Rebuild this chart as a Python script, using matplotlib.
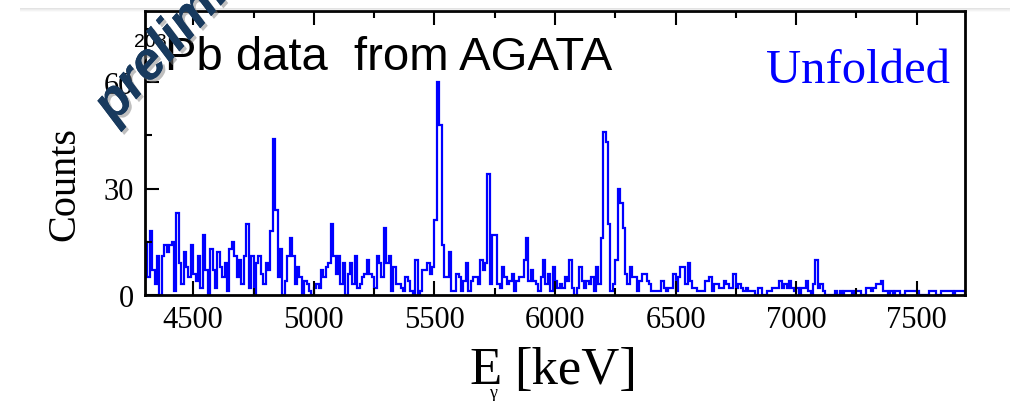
import numpy as np
import matplotlib.pyplot as plt
from matplotlib import patheffects as pe
from matplotlib.patches import Rectangle

# unfolded gamma spectrum, 10 keV bins starting at 4300 keV
bin_width = 10
e_start = 4300

counts_4300 = [15, 5, 18, 7, 3, 11, 0, 11, 14, 12, 14, 15, 1, 23, 9, 3, 12, 8, 5, 14]
counts_4500 = [6, 4, 11, 2, 17, 7, 0, 13, 7, 2, 12, 8, 5, 9, 1, 13, 15, 11, 5, 10,
               3, 11, 20, 2, 11, 0, 9, 11, 6, 3, 9, 7, 18, 44, 24, 5, 13, 0, 4, 11,
               16, 11, 3, 8, 5, 0, 4, 3, 1, 0]
counts_5000 = [2, 3, 2, 7, 5, 8, 9, 20, 11, 6, 11, 3, 9, 0, 6, 9, 3, 11, 2, 3,
               5, 6, 10, 6, 5, 2, 11, 9, 5, 19, 9, 11, 1, 8, 3, 3, 2, 1, 5, 4,
               1, 0, 10, 0, 1, 7, 7, 9, 6, 8]
counts_5500 = [21, 60, 48, 14, 5, 5, 12, 1, 1, 6, 5, 1, 4, 9, 1, 4, 5, 5, 3, 10,
               7, 9, 34, 3, 17, 17, 3, 2, 8, 5, 3, 4, 6, 1, 4, 5, 5, 10, 16, 4,
               7, 4, 3, 1, 5, 10, 3, 6, 1, 8]
counts_6000 = [4, 2, 3, 2, 5, 4, 10, 2, 0, 2, 8, 4, 2, 4, 3, 5, 1, 8, 3, 16,
               46, 43, 20, 1, 3, 10, 30, 26, 19, 6, 3, 8, 5, 5, 1, 4, 6, 6, 4, 3,
               1, 1, 1, 1, 4, 2, 1, 2, 2, 6]
counts_6500 = [1, 5, 8, 8, 3, 9, 4, 2, 2, 1, 1, 1, 4, 4, 5, 1, 3, 3, 2, 2,
               4, 3, 2, 2, 6, 2, 3, 2, 1, 2, 1, 1, 1, 0, 2, 2, 0, 0, 1, 1,
               2, 2, 2, 4, 2, 3, 2, 4, 2, 1]
counts_7000 = [2, 0, 2, 2, 4, 1, 0, 3, 10, 2, 3, 1, 0, 0, 0, 0, 1, 0, 1, 0,
               1, 1, 1, 0, 1, 1, 1, 0, 0, 2, 2, 1, 2, 3, 3, 4, 1, 1, 0, 1,
               0, 1, 1, 0, 0, 1, 1, 1, 1, 1]
counts_7500 = [1, 0, 0, 0, 0, 1, 1, 1, 0, 0, 1, 1, 1, 1, 1, 0, 1, 1, 1, 1]

x_ticks = [4500, 5000, 5500, 6000, 6500, 7000, 7500]
x_minor = [4750, 5250, 5750, 6250, 6750, 7250]
y_ticks = [0, 30, 60]
y_minor = [15, 45, 75]

counts = np.array(counts_4300 + counts_4500 + counts_5000 + counts_5500
                  + counts_6000 + counts_6500 + counts_7000 + counts_7500)
edges = e_start + bin_width * np.arange(len(counts) + 1)

W, H = 1010, 402
fig = plt.figure(figsize=(W / 100, H / 100), dpi=100)
ax = fig.add_axes([145 / W, 1 - 296 / H, 820 / W, 284 / H])

ax.stairs(counts, edges, color="#0000ff", linewidth=1.6)

ax.set_xlim(4300, 7700)
ax.set_ylim(0, 80)
ax.set_xticks(x_ticks)
ax.set_yticks(y_ticks)
ax.set_xticks(x_minor, minor=True)
ax.set_yticks(y_minor, minor=True)

serif = "Liberation Serif"
for lab in ax.get_xticklabels() + ax.get_yticklabels():
    lab.set_family(serif)
    lab.set_fontsize(22)
ax.tick_params(which="both", direction="in", top=True, right=False, width=1.5)
ax.tick_params(which="major", length=10)
ax.tick_params(which="minor", length=5)
ax.tick_params(axis="x", pad=7)
ax.tick_params(axis="y", pad=8)
for s in ax.spines.values():
    s.set_linewidth(2)

# axis titles
fig.text(65 / W, 1 - 184 / H, "Counts", rotation=90, ha="center", va="center",
         family=serif, fontsize=29)
fig.text(469 / W, 1 - 384 / H, "E", ha="left", va="baseline", family=serif, fontsize=38)
fig.text(489 / W, 1 - 398 / H, "γ", ha="left", va="baseline", family=serif, fontsize=13)
fig.text(514 / W, 1 - 384 / H, "[keV]", ha="left", va="baseline", family=serif, fontsize=38)

fig.text(950 / W, 1 - 83 / H, "Unfolded", ha="right", va="baseline", family=serif,
         fontsize=35, color="#0000ff")

sans = ["Liberation Sans", "DejaVu Sans"]
fig.text(612 / W, 1 - 70 / H, "Pb data  from AGATA", ha="right", va="baseline",
         family=sans, fontsize=34, color="black", zorder=6)
# mass number sits under the watermark, as in the slide
fig.text(167 / W, 1 - 47 / H, "208", ha="right", va="baseline",
         family=sans, fontsize=14, color="black", zorder=6)

# slide header strip with its shadow
fig.patches.append(Rectangle((0, 1 - 9 / H), 1, 9 / H, transform=fig.transFigure,
                             facecolor="white", edgecolor="none", zorder=5))
for k, a in enumerate([0.22, 0.15, 0.09, 0.04]):
    fig.patches.append(Rectangle((20 / W, 1 - (10 + k) / H), 1, 1 / H,
                                 transform=fig.transFigure, facecolor="gray",
                                 edgecolor="none", alpha=a, zorder=5))

fig.text(114 / W, 1 - 125 / H, "preliminary", rotation=48, rotation_mode="anchor",
         ha="left", va="baseline", family="Liberation Sans", fontweight="bold",
         fontstyle="italic", fontsize=38, color="#183a5e", zorder=10,
         path_effects=[pe.withSimplePatchShadow(offset=(2, -2), shadow_rgbFace="gray",
                                                alpha=0.5), pe.Normal()])

fig.savefig("out.png", dpi=100)
